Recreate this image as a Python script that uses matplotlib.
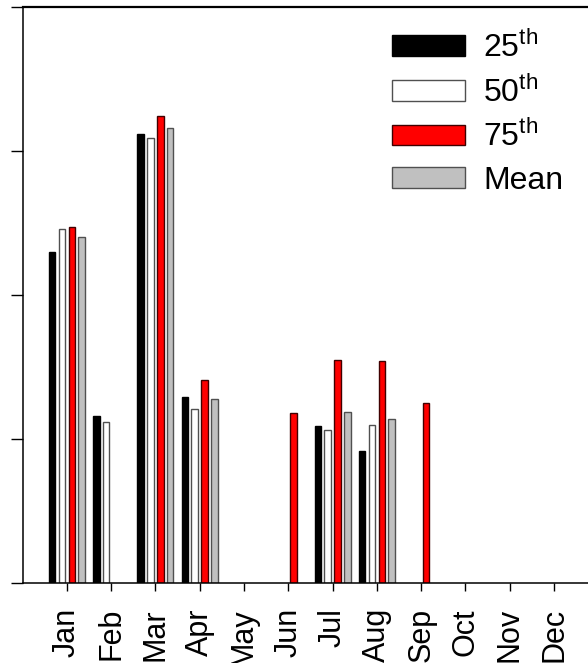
import matplotlib
matplotlib.use('Agg')
import matplotlib.pyplot as plt
import numpy as np

plt.rcParams['font.family'] = ['Liberation Sans', 'DejaVu Sans']
plt.rcParams['mathtext.fontset'] = 'custom'
plt.rcParams['mathtext.rm'] = 'Liberation Sans'

# data (y in tick units)
months = ['Jan', 'Feb', 'Mar', 'Apr', 'May', 'Jun', 'Jul', 'Aug', 'Sep', 'Oct', 'Nov', 'Dec']
nan = np.nan
p25 = [2.30, 1.16, 3.12, 1.29, nan, nan, 1.09, 0.92, nan, nan, nan, nan]
p50 = [2.46, 1.12, 3.09, 1.21, nan, nan, 1.06, 1.10, nan, nan, nan, nan]
p75 = [2.47, nan, 3.24, 1.41, nan, 1.18, 1.55, 1.54, 1.25, nan, nan, nan]
mean = [2.40, nan, 3.16, 1.28, nan, nan, 1.19, 1.14, nan, nan, nan, nan]
labels = [r'25$^{\mathrm{th}}$', r'50$^{\mathrm{th}}$', r'75$^{\mathrm{th}}$', 'Mean']

fig = plt.figure(figsize=(5.88, 6.63), dpi=100)
unit = 44.3 / 588
ax = fig.add_axes([22.5 / 588, 80 / 663, 13 * unit, 576 / 663])

x = np.arange(1, 13)
w = 0.147
series = [p25, p50, p75, mean]
faces = ['black', 'white', '#ff0000', '#c0c0c0']
edges = ['black', '#505050', '#400000', '#505050']
offs = [-0.335, -0.112, 0.112, 0.335]
for s, fc, ec, o, lab in zip(series, faces, edges, offs, labels):
    ax.bar(x + o, s, width=w, color=fc, edgecolor=ec, linewidth=1.0, label=lab)

ax.set_xlim(0, 13)
ax.set_ylim(0, 4)
ax.set_xticks(x)
ax.set_xticklabels(months, rotation=90, fontsize=22)
ax.set_yticks([0, 1, 2, 3, 4])
ax.set_yticklabels([])
ax.tick_params(axis='x', direction='out', length=6, width=1, pad=12)
ax.tick_params(axis='y', direction='out', length=8.6, width=1)
ax.spines['right'].set_visible(False)
for sp in ['left', 'bottom', 'top']:
    ax.spines[sp].set_linewidth(1.1)
ax.spines['top'].set_linewidth(1.6)

leg = ax.legend(loc='upper left', bbox_to_anchor=(392 / 588, 1 - 31 / 663),
                bbox_transform=fig.transFigure, frameon=False, fontsize=23,
                handlelength=2.3, handleheight=0.62, handletextpad=0.55,
                labelspacing=0.38, borderpad=0, borderaxespad=0)

fig.savefig('out.png', dpi=100)
